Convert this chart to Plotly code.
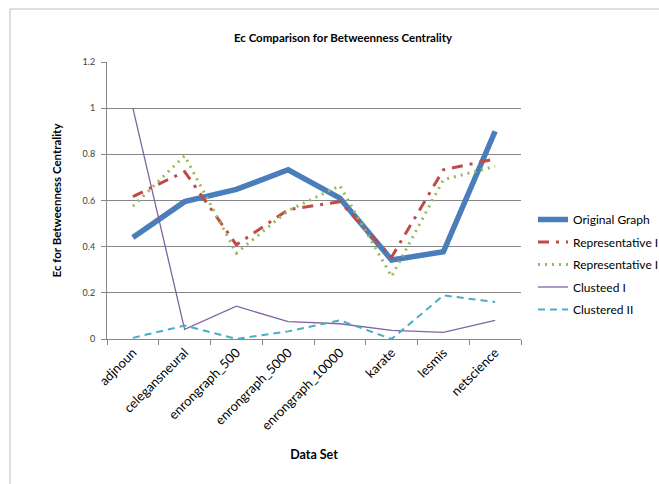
import plotly.graph_objects as go

# Data sets on the x axis
datasets = ["adjnoun", "celegansneural", "enrongraph_500", "enrongraph_5000",
            "enrongraph_10000", "karate", "lesmis", "netscience"]

# Ec values for betweenness centrality, one list per graph variant
original_graph = [0.44, 0.595, 0.648, 0.733, 0.61, 0.342, 0.378, 0.90]
representative_1 = [0.617, 0.725, 0.408, 0.56, 0.595, 0.355, 0.733, 0.78]
representative_2 = [0.575, 0.794, 0.372, 0.556, 0.664, 0.271, 0.69, 0.748]
clusteed_1 = [1.0, 0.042, 0.142, 0.075, 0.066, 0.037, 0.029, 0.081]
clustered_2 = [0.005, 0.058, 0.0, 0.033, 0.081, 0.0, 0.189, 0.16]

W, H = 659, 484
L, R, T, B = 107, 138, 62, 145
plot_w = W - L - R
plot_h = H - T - B

FONT = "Lato, 'Open Sans', sans-serif"

fig = go.Figure()

series = [
    ("Original Graph", original_graph, dict(color="#4A7EBB", width=5.5)),
    ("Representative I", representative_1, dict(color="#BE4B48", width=3, dash="11px,7px,3px,7px")),
    ("Representative II", representative_2, dict(color="#98B954", width=3, dash="2px,5px")),
    ("Clusteed I", clusteed_1, dict(color="#8064A2", width=1.3)),
    ("Clustered II", clustered_2, dict(color="#4BACC6", width=2, dash="7px,5px")),
]
for name, vals, line in series:
    fig.add_trace(go.Scatter(x=datasets, y=vals, mode="lines", name=name,
                             legendgroup=name, line=line))

# chart frame (extends past the right and bottom edges)
def px_x(p):
    return (p - L) / plot_w

def px_y(p):
    return 1 - (p - T) / plot_h

fig.add_shape(type="rect", xref="paper", yref="paper",
              x0=px_x(10), x1=px_x(700), y0=px_y(9), y1=px_y(520),
              line=dict(color="#BFBFBF", width=1), fillcolor="rgba(0,0,0,0)", layer="below")

fig.update_layout(
    width=W, height=H,
    margin=dict(l=L, r=R, t=T, b=B, autoexpand=False),
    paper_bgcolor="white", plot_bgcolor="white",
    font=dict(family=FONT, color="#000000"),
    title=dict(text="<b>Ec Comparison for Betweenness Centrality</b>",
               x=px_x(343), xref="paper", xanchor="center",
               y=1 - 38 / H, yanchor="middle",
               font=dict(size=11.5, family=FONT, color="#000000")),
    showlegend=True,
    legend=dict(x=px_x(533), y=px_y(205), xanchor="left", yanchor="top",
                font=dict(size=12, family=FONT, color="#000000"),
                tracegroupgap=3.5, itemwidth=30, bgcolor="rgba(0,0,0,0)"),
    xaxis=dict(
        type="category", range=[-0.5, 7.5],
        showline=True, linecolor="#868686", linewidth=1,
        ticks="outside", tickson="boundaries", ticklen=5, tickcolor="#868686",
        tickangle=-45, tickfont=dict(size=13, family=FONT, color="#000000"),
        showgrid=False, zeroline=False,
        title=dict(text="<b>Data Set</b>", font=dict(size=12.5, family=FONT), standoff=18),
    ),
    yaxis=dict(
        range=[0, 1.2], dtick=0.2,
        showline=True, linecolor="#868686", linewidth=1,
        ticks="outside", ticklen=5, tickcolor="#868686", ticklabelstandoff=4,
        tickfont=dict(size=9, family=FONT, color="#404040"),
        showgrid=True, gridcolor="#868686", gridwidth=1,
        zeroline=False,
        title=dict(text="<b>Ec for Betweenness Centrality</b>", font=dict(size=11.5, family=FONT), standoff=18),
    ),
)

fig.write_html("out.html")
